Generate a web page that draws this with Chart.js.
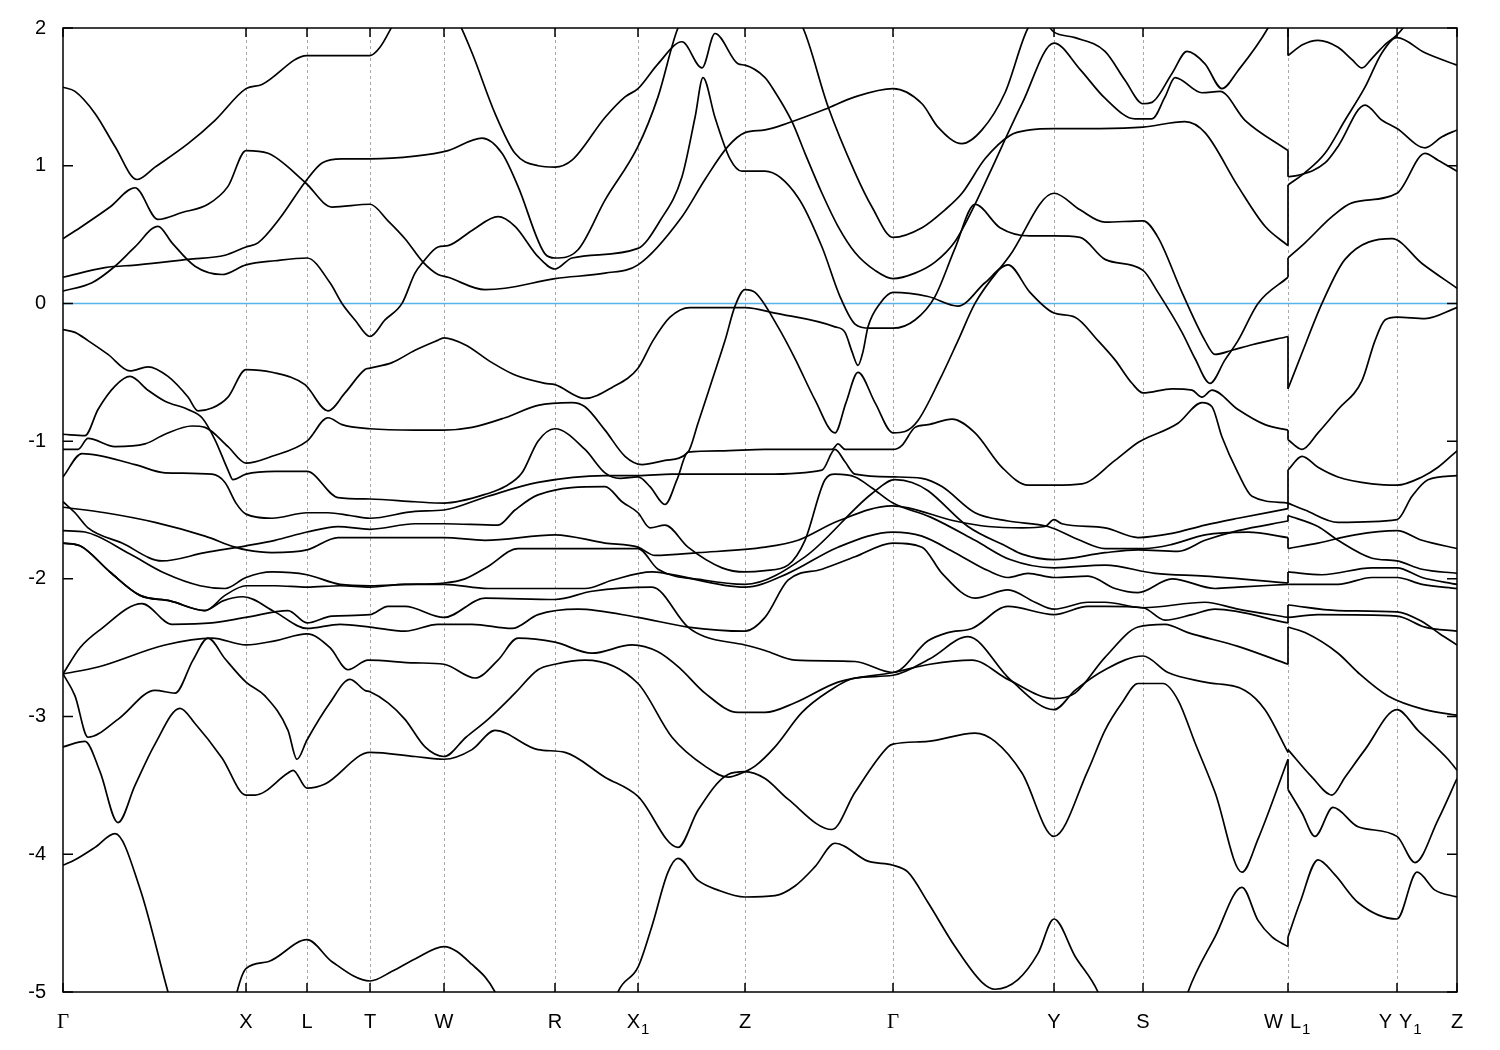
<!DOCTYPE html>
<html>
<head>
<meta charset="utf-8">
<title>Band structure</title>
<script src="https://cdn.jsdelivr.net/npm/chart.js@4.4.1/dist/chart.umd.min.js"></script>
<style>
  body { margin: 0; background: #fff; }
  #wrap { width: 1500px; height: 1050px; }
</style>
</head>
<body>
<div id="wrap"><canvas id="bands" width="1500" height="1050"></canvas></div>
<script>
// ===== Path (k in arbitrary path units) =====
const kTicks = [0, 183, 244, 307, 381, 492, 575, 682, 830, 991, 1080, 1225, 1334, 1394];
const kTickLabels = ['Γ', 'X', 'L', 'T', 'W', 'R', 'X_1', 'Z', 'Γ', 'Y', 'S', 'W|L_1', 'Y|Y_1', 'Z'];
const kJump = 1225;          // W | L1 discontinuity
const eTicks = [2, 1, 0, -1, -2, -3, -4, -5];

// ===== Bands, Γ → W =====
const bandA = [[0,1.57],[12,1.54],[32,1.38],[52,1.14],[74,0.90],[92,0.99],[125,1.16],[152,1.33],[183,1.56],[199,1.59],[244,1.80],[307,1.80],[317,1.86],[332,2.05],[362,2.4],[395,2.05],[409,1.82],[432,1.38],[452,1.09],[475,1.00],[492,0.99],[509,1.04],[542,1.35],[562,1.50],[575,1.56],[595,1.74],[619,1.90],[639,1.71],[652,1.96],[675,1.74],[682,1.73],[702,1.64],[709,1.57],[729,1.32],[742,1.09],[759,0.80],[775,0.56],[792,0.37],[812,0.24],[830,0.18],[852,0.22],[872,0.30],[892,0.45],[912,0.72],[925,0.92],[959,1.45],[991,1.89],[1017,1.70],[1042,1.49],[1072,1.34],[1089,1.34],[1102,1.50],[1112,1.64],[1139,1.53],[1157,1.54],[1182,1.33],[1225,1.11]];
const bandB = [[0,0.47],[17,0.55],[47,0.70],[72,0.84],[95,0.61],[119,0.66],[145,0.72],[165,0.85],[183,1.11],[205,1.09],[242,0.88],[269,0.70],[307,0.72],[325,0.60],[342,0.47],[360,0.30],[375,0.21],[385,0.19],[422,0.10],[442,0.11],[492,0.18],[542,0.22],[575,0.28],[619,0.63],[642,0.90],[665,1.14],[682,1.24],[702,1.26],[725,1.31],[762,1.41],[792,1.50],[830,1.56],[859,1.45],[875,1.28],[899,1.16],[919,1.26],[942,1.53],[965,2.0],[977,2.08],[991,1.97],[1012,1.93],[1042,1.83],[1062,1.62],[1080,1.45],[1089,1.46],[1109,1.67],[1124,1.83],[1142,1.74],[1159,1.56],[1175,1.69],[1205,2.0],[1225,2.3]];
const bandC = [[0,0.09],[29,0.15],[52,0.27],[72,0.41],[95,0.56],[109,0.44],[132,0.27],[159,0.21],[183,0.28],[212,0.31],[244,0.33],[267,0.15],[279,0.0],[292,-0.12],[307,-0.24],[322,-0.12],[339,0.0],[352,0.22],[360,0.30],[375,0.41],[385,0.42],[409,0.53],[435,0.63],[452,0.56],[475,0.34],[492,0.25],[509,0.33],[575,0.40],[597,0.6],[619,0.92],[632,1.35],[640,1.64],[652,1.35],[667,1.05],[679,0.96],[702,0.96],[735,0.77],[759,0.41],[777,0.05],[792,-0.15],[807,-0.18],[830,-0.18],[852,-0.12],[872,0.05],[892,0.40],[912,0.72],[937,0.55],[967,0.49],[991,0.49],[1017,0.48],[1042,0.32],[1080,0.24],[1095,0.08],[1119,-0.21],[1132,-0.40],[1147,-0.58],[1162,-0.41],[1175,-0.27],[1195,0.0],[1225,0.19]];
const bandD = [[0,0.19],[42,0.26],[75,0.28],[125,0.32],[162,0.35],[183,0.41],[195,0.44],[217,0.62],[242,0.88],[259,1.02],[279,1.05],[307,1.05],[352,1.07],[385,1.11],[419,1.20],[439,1.09],[455,0.85],[482,0.36],[492,0.33],[515,0.39],[542,0.75],[575,1.14],[595,1.50],[615,2.0],[677,2.6],[740,2.0],[765,1.43],[792,0.95],[809,0.70],[830,0.48],[859,0.55],[882,0.68],[899,0.80],[922,1.05],[947,1.22],[967,1.26],[991,1.27],[1037,1.27],[1080,1.28],[1122,1.32],[1142,1.24],[1175,0.85],[1202,0.56],[1225,0.42]];
const bandE = [[0,-0.19],[12,-0.21],[25,-0.27],[45,-0.37],[67,-0.49],[85,-0.46],[105,-0.53],[125,-0.68],[135,-0.78],[149,-0.76],[165,-0.68],[183,-0.48],[209,-0.50],[242,-0.59],[265,-0.78],[282,-0.65],[302,-0.48],[307,-0.47],[329,-0.43],[352,-0.34],[374,-0.27],[381,-0.25],[402,-0.30],[429,-0.43],[452,-0.52],[482,-0.58],[492,-0.59],[522,-0.69],[549,-0.61],[575,-0.47],[590,-0.27],[607,-0.10],[627,-0.03],[682,-0.03],[712,-0.07],[772,-0.17],[782,-0.21],[789,-0.35],[795,-0.45],[800,-0.35],[805,-0.17],[817,0.0],[830,0.08],[865,0.05],[895,-0.02],[922,0.15],[945,0.28],[967,0.08],[991,-0.07],[1012,-0.10],[1035,-0.27],[1052,-0.41],[1069,-0.58],[1080,-0.65],[1109,-0.62],[1129,-0.63],[1139,-0.68],[1149,-0.63],[1175,-0.77],[1202,-0.88],[1225,-0.92]];
const bandF = [[0,-0.95],[22,-0.96],[35,-0.77],[52,-0.60],[67,-0.53],[85,-0.63],[102,-0.71],[125,-0.77],[139,-0.83],[152,-0.99],[165,-1.21],[170,-1.28],[183,-1.24],[212,-1.22],[244,-1.22],[275,-1.41],[307,-1.42],[352,-1.44],[381,-1.45],[425,-1.38],[442,-1.33],[459,-1.23],[475,-1.00],[492,-0.91],[522,-1.06],[542,-1.23],[557,-1.27],[575,-1.26],[587,-1.33],[602,-1.46],[614,-1.28],[625,-1.08],[657,-1.07],[702,-1.06],[769,-1.06],[775,-1.02],[782,-1.06],[830,-1.06],[839,-1.03],[852,-0.90],[865,-0.88],[889,-0.84],[912,-0.94],[939,-1.19],[965,-1.32],[991,-1.32],[1019,-1.31],[1052,-1.14],[1075,-1.01],[1080,-0.99],[1115,-0.87],[1139,-0.72],[1149,-0.75],[1159,-0.97],[1175,-1.23],[1189,-1.40],[1225,-1.45]];
const bandG = [[0,-1.06],[15,-1.06],[25,-0.98],[52,-1.04],[82,-1.02],[102,-0.95],[129,-0.89],[142,-0.90],[165,-1.04],[183,-1.16],[209,-1.11],[244,-1.00],[265,-0.83],[279,-0.88],[307,-0.91],[352,-0.92],[381,-0.92],[409,-0.90],[442,-0.83],[475,-0.74],[509,-0.72],[522,-0.75],[542,-0.92],[562,-1.11],[579,-1.17],[602,-1.14],[625,-1.08],[635,-0.87],[649,-0.56],[662,-0.27],[672,-0.02],[682,0.10],[692,0.08],[715,-0.17],[732,-0.40],[752,-0.70],[772,-0.94],[783,-0.72],[795,-0.50],[812,-0.72],[830,-0.94],[842,-0.93],[855,-0.85],[877,-0.55],[895,-0.27],[912,0.0],[947,0.35],[991,0.80],[1017,0.68],[1042,0.59],[1080,0.60],[1095,0.48],[1119,0.08],[1142,-0.27],[1152,-0.37],[1169,-0.34],[1189,-0.30],[1225,-0.24]];
const bandH = [[0,-1.26],[19,-1.09],[72,-1.17],[102,-1.23],[149,-1.24],[162,-1.30],[173,-1.45],[183,-1.53],[209,-1.56],[244,-1.52],[265,-1.52],[287,-1.54],[307,-1.56],[352,-1.51],[381,-1.50],[425,-1.40],[475,-1.30],[542,-1.25],[575,-1.25],[609,-1.24],[702,-1.24],[759,-1.21],[772,-1.06],[782,-1.15],[792,-1.24],[832,-1.26],[859,-1.27],[879,-1.33],[912,-1.52],[945,-1.58],[985,-1.62],[1017,-1.72],[1042,-1.78],[1082,-1.78],[1109,-1.75],[1142,-1.68],[1185,-1.66],[1225,-1.70]];
const bandI = [[0,-1.44],[12,-1.52],[25,-1.63],[59,-1.74],[99,-1.87],[142,-1.81],[183,-1.76],[212,-1.72],[244,-1.66],[275,-1.62],[307,-1.64],[352,-1.60],[381,-1.60],[435,-1.61],[452,-1.50],[475,-1.39],[542,-1.33],[559,-1.44],[575,-1.52],[587,-1.63],[602,-1.61],[625,-1.77],[659,-1.92],[682,-1.95],[702,-1.94],[725,-1.90],[742,-1.72],[762,-1.28],[772,-1.24],[792,-1.26],[809,-1.34],[830,-1.45],[867,-1.55],[912,-1.72],[947,-1.86],[991,-1.92],[1042,-1.90],[1092,-1.96],[1142,-1.98],[1225,-2.03]];
const bandJ = [[0,-1.48],[42,-1.52],[92,-1.59],[142,-1.69],[172,-1.77],[183,-1.79],[209,-1.81],[244,-1.79],[275,-1.70],[307,-1.70],[342,-1.70],[381,-1.70],[422,-1.72],[492,-1.68],[542,-1.74],[575,-1.77],[592,-1.83],[635,-1.81],[702,-1.77],[735,-1.72],[775,-1.58],[829,-1.47],[892,-1.58],[925,-1.62],[959,-1.63],[982,-1.62],[991,-1.57],[999,-1.60],[1042,-1.63],[1075,-1.70],[1109,-1.67],[1142,-1.61],[1175,-1.56],[1225,-1.49]];
const bandK = [[0,-1.65],[22,-1.66],[67,-1.82],[102,-1.96],[137,-2.05],[162,-2.07],[183,-1.99],[209,-1.95],[244,-1.97],[277,-2.04],[307,-2.05],[342,-2.04],[381,-2.03],[402,-2.0],[425,-1.91],[455,-1.78],[575,-1.78],[595,-1.93],[642,-2.01],[682,-2.04],[742,-1.84],[809,-1.38],[832,-1.28],[849,-1.30],[865,-1.36],[905,-1.62],[945,-1.77],[959,-1.82],[991,-1.86],[1042,-1.81],[1075,-1.79],[1115,-1.80],[1142,-1.72],[1175,-1.65],[1225,-1.58]];
const bandL = [[0,-1.74],[17,-1.76],[47,-1.95],[77,-2.12],[107,-2.16],[142,-2.23],[162,-2.12],[183,-2.05],[212,-2.05],[244,-2.06],[277,-2.05],[307,-2.06],[342,-2.04],[381,-2.04],[425,-2.07],[522,-2.07],[549,-2.01],[589,-1.95],[602,-1.96],[682,-2.06],[725,-1.96],[775,-1.77],[830,-1.66],[859,-1.69],[892,-1.81],[925,-1.94],[945,-1.99],[965,-1.96],[991,-1.99],[1025,-1.98],[1052,-2.07],[1075,-2.10],[1109,-2.00],[1152,-2.07],[1175,-2.06],[1225,-2.04]];
const bandM = [[0,-1.74],[17,-1.76],[47,-1.95],[77,-2.12],[107,-2.16],[142,-2.23],[160,-2.16],[180,-2.13],[212,-2.24],[244,-2.36],[277,-2.33],[307,-2.35],[342,-2.38],[375,-2.33],[409,-2.33],[449,-2.36],[475,-2.26],[515,-2.22],[575,-2.28],[625,-2.35],[682,-2.38],[702,-2.28],[725,-2.01],[759,-1.93],[792,-1.84],[830,-1.74],[859,-1.77],[879,-1.96],[912,-2.14],[945,-2.08],[972,-2.17],[991,-2.22],[1025,-2.17],[1042,-2.17],[1080,-2.21],[1142,-2.17],[1175,-2.22],[1225,-2.28]];
const bandN = [[0,-2.69],[17,-2.50],[37,-2.37],[79,-2.18],[109,-2.33],[149,-2.32],[183,-2.28],[225,-2.23],[244,-2.32],[269,-2.27],[307,-2.26],[325,-2.20],[342,-2.20],[381,-2.28],[422,-2.14],[492,-2.15],[529,-2.09],[589,-2.06],[625,-2.35],[642,-2.42],[682,-2.48],[702,-2.52],[732,-2.59],[792,-2.60],[830,-2.68],[865,-2.45],[885,-2.39],[909,-2.36],[945,-2.20],[991,-2.26],[1025,-2.20],[1042,-2.20],[1080,-2.21],[1102,-2.30],[1129,-2.26],[1152,-2.22],[1225,-2.32]];
const bandO = [[0,-2.69],[35,-2.64],[102,-2.48],[149,-2.43],[183,-2.48],[212,-2.45],[244,-2.40],[267,-2.50],[285,-2.66],[305,-2.59],[352,-2.61],[381,-2.62],[412,-2.72],[435,-2.59],[455,-2.43],[492,-2.46],[529,-2.54],[569,-2.48],[595,-2.53],[617,-2.65],[642,-2.83],[675,-2.97],[702,-2.97],[732,-2.90],[775,-2.75],[830,-2.68],[867,-2.62],[909,-2.59],[945,-2.73],[991,-2.87],[1012,-2.83],[1042,-2.57],[1075,-2.35],[1102,-2.33],[1125,-2.39],[1175,-2.49],[1225,-2.62]];
const bandP = [[0,-2.69],[12,-2.85],[25,-3.15],[55,-3.02],[92,-2.81],[112,-2.83],[130,-2.59],[145,-2.43],[162,-2.58],[183,-2.75],[202,-2.85],[225,-3.10],[234,-3.31],[244,-3.17],[267,-2.90],[287,-2.73],[302,-2.81],[307,-2.82],[325,-2.90],[342,-3.02],[362,-3.22],[381,-3.29],[403,-3.15],[425,-3.02],[452,-2.83],[475,-2.66],[492,-2.62],[522,-2.59],[575,-2.76],[609,-3.15],[642,-3.36],[665,-3.44],[682,-3.40],[692,-3.36],[712,-3.22],[739,-2.97],[765,-2.82],[792,-2.72],[830,-2.70],[867,-2.58],[905,-2.42],[947,-2.73],[991,-2.95],[1012,-2.81],[1042,-2.66],[1080,-2.56],[1105,-2.68],[1142,-2.75],[1182,-2.81],[1202,-2.95],[1225,-3.26]];
const bandQ = [[0,-3.22],[22,-3.18],[37,-3.40],[55,-3.77],[72,-3.50],[92,-3.20],[117,-2.94],[132,-3.05],[159,-3.30],[183,-3.57],[192,-3.57],[225,-3.41],[230,-3.39],[244,-3.52],[262,-3.49],[307,-3.26],[352,-3.29],[381,-3.31],[409,-3.24],[432,-3.10],[475,-3.24],[502,-3.26],[542,-3.44],[575,-3.58],[615,-3.95],[635,-3.68],[665,-3.42],[682,-3.40],[702,-3.45],[725,-3.60],[769,-3.82],[792,-3.55],[825,-3.22],[830,-3.20],[865,-3.18],[912,-3.12],[932,-3.18],[959,-3.41],[991,-3.87],[1025,-3.39],[1042,-3.10],[1059,-2.90],[1075,-2.76],[1100,-2.76],[1115,-2.88],[1132,-3.19],[1152,-3.55],[1179,-4.13],[1195,-3.89],[1225,-3.31]];
const bandR1 = [[0,-4.08],[12,-4.04],[32,-3.95],[52,-3.85],[77,-4.25],[105,-5.0],[117,-5.3]];
const bandR2 = [[170,-5.15],[174,-5.0],[183,-4.83],[205,-4.78],[244,-4.62],[269,-4.78],[307,-4.92],[329,-4.85],[352,-4.76],[381,-4.67],[409,-4.80],[432,-5.0],[442,-5.2]];
const bandR3 = [[547,-5.2],[555,-5.0],[575,-4.82],[589,-4.52],[605,-4.13],[615,-4.03],[635,-4.19],[655,-4.26],[682,-4.31],[712,-4.30],[732,-4.23],[752,-4.09],[772,-3.92],[805,-4.05],[830,-4.08],[845,-4.13],[865,-4.35],[892,-4.67],[919,-4.93],[932,-4.98],[955,-4.91],[975,-4.72],[991,-4.47],[1012,-4.74],[1035,-5.0],[1045,-5.2]];
const bandR4 = [[1117,-5.2],[1125,-5.0],[1152,-4.60],[1179,-4.24],[1195,-4.48],[1209,-4.60],[1225,-4.67]];

// ===== Bands, L1 → Z =====
const bandS1 = [[1225,1.80],[1240,1.88],[1255,1.91],[1275,1.86],[1289,1.77],[1299,1.71],[1309,1.78],[1322,1.88],[1334,1.95],[1342,2.02],[1352,2.15]];
const bandS2 = [[1225,0.86],[1242,0.95],[1262,1.09],[1282,1.33],[1302,1.57],[1319,1.82],[1334,1.93],[1362,1.82],[1394,1.73]];
const bandS3 = [[1225,0.92],[1235,0.93],[1262,1.02],[1275,1.14],[1302,1.44],[1319,1.33],[1334,1.27],[1362,1.13],[1379,1.21],[1394,1.26]];
const bandS4 = [[1225,0.33],[1242,0.44],[1269,0.63],[1289,0.73],[1334,0.80],[1362,1.09],[1375,1.04],[1394,0.96]];
const bandS5 = [[1225,-0.62],[1239,-0.36],[1259,0.0],[1282,0.32],[1329,0.47],[1359,0.29],[1394,0.11]];
const bandS6 = [[1225,-0.99],[1239,-1.06],[1255,-0.94],[1275,-0.77],[1299,-0.56],[1312,-0.27],[1322,-0.12],[1334,-0.10],[1362,-0.11],[1394,-0.03]];
const bandS7 = [[1225,-1.21],[1239,-1.11],[1255,-1.19],[1275,-1.26],[1309,-1.31],[1334,-1.32],[1359,-1.26],[1375,-1.19],[1394,-1.07]];
const bandS8 = [[1225,-1.45],[1242,-1.50],[1275,-1.59],[1334,-1.57],[1349,-1.40],[1365,-1.28],[1394,-1.25]];
const bandS9 = [[1225,-1.54],[1255,-1.62],[1275,-1.72],[1309,-1.85],[1334,-1.87],[1359,-1.93],[1394,-1.96]];
const bandS10 = [[1225,-1.78],[1255,-1.74],[1292,-1.68],[1334,-1.65],[1359,-1.72],[1394,-1.78]];
const bandS11 = [[1225,-1.95],[1259,-1.97],[1309,-1.92],[1334,-1.92],[1359,-1.99],[1394,-2.04]];
const bandS12 = [[1225,-2.04],[1275,-2.04],[1309,-1.99],[1334,-1.99],[1359,-2.04],[1394,-2.07]];
const bandS13 = [[1225,-2.19],[1275,-2.23],[1334,-2.24],[1359,-2.31],[1377,-2.40],[1394,-2.48]];
const bandS14 = [[1225,-2.28],[1255,-2.26],[1334,-2.27],[1362,-2.35],[1394,-2.38]];
const bandS15 = [[1225,-2.35],[1242,-2.39],[1275,-2.54],[1295,-2.68],[1325,-2.85],[1362,-2.95],[1394,-2.99]];
const bandS16 = [[1225,-3.24],[1249,-3.44],[1269,-3.57],[1282,-3.44],[1302,-3.24],[1334,-2.95],[1355,-3.10],[1385,-3.31],[1394,-3.39]];
const bandS17 = [[1225,-3.53],[1239,-3.70],[1252,-3.87],[1270,-3.66],[1295,-3.80],[1334,-3.87],[1352,-4.06],[1375,-3.75],[1394,-3.45]];
const bandS18 = [[1225,-4.60],[1237,-4.35],[1255,-4.04],[1272,-4.15],[1295,-4.35],[1334,-4.47],[1354,-4.13],[1372,-4.26],[1394,-4.31]];

const leftBands = [bandA, bandB, bandC, bandD, bandE, bandF, bandG, bandH, bandI, bandJ, bandK, bandL, bandM, bandN, bandO, bandP, bandQ, bandR1, bandR2, bandR3, bandR4];
const rightBands = [bandS1, bandS2, bandS3, bandS4, bandS5, bandS6, bandS7, bandS8, bandS9, bandS10, bandS11, bandS12, bandS13, bandS14, bandS15, bandS16, bandS17, bandS18];

// ===== Datasets =====
function toPoints(band) {
    return band.map(p => ({ x: p[0], y: p[1] }));
}

function bandDataset(band) {
    return {
        data: toPoints(band),
        borderColor: '#000',
        borderWidth: 1.7,
        pointRadius: 0,
        fill: false,
        cubicInterpolationMode: 'monotone'
    };
}

// vertical connectors at W|L1: n-th band from the top on each side
function jumpDatasets() {
    const wEnds = leftBands.filter(b => b[b.length - 1][0] === kJump).map(b => b[b.length - 1][1]).sort((a, b) => b - a);
    const lStarts = rightBands.filter(b => b[0][0] === kJump).map(b => b[0][1]).sort((a, b) => b - a);
    const n = Math.min(wEnds.length, lStarts.length);
    const sets = [];
    for (let i = 0; i < n; i++) {
        sets.push({
            data: [{ x: kJump, y: wEnds[i] }, { x: kJump, y: lStarts[i] }],
            borderColor: '#000',
            borderWidth: 1.7,
            pointRadius: 0,
            tension: 0
        });
    }
    return sets;
}

const datasets = [
    ...leftBands.map(bandDataset),
    ...rightBands.map(bandDataset),
    ...jumpDatasets(),
    {
        data: [{ x: kTicks[0], y: 0 }, { x: kTicks[kTicks.length - 1], y: 0 }],
        borderColor: '#56b4e9',
        borderWidth: 1.5,
        pointRadius: 0,
        tension: 0
    }
];

// ===== Frame, ticks, labels =====
function drawTickLabel(ctx, text, x, y, align) {
    const [main, sub] = text.split('_');
    const mainFont = main === 'Γ' ? '21px "Liberation Serif"' : '20px "Liberation Sans"';
    const subFont = '15px "Liberation Sans"';
    ctx.font = mainFont;
    const wMain = ctx.measureText(main).width;
    ctx.font = subFont;
    const wSub = sub ? ctx.measureText(sub).width + 1 : 0;
    const total = wMain + wSub;
    let start = x - total / 2;
    if (align === 'right') start = x - total;
    if (align === 'left') start = x;
    ctx.textAlign = 'left';
    ctx.textBaseline = 'alphabetic';
    ctx.font = mainFont;
    ctx.fillText(main, start, y);
    if (sub) {
        ctx.font = subFont;
        ctx.fillText(sub, start + wMain + 1, y + 6);
    }
}

const framePlugin = {
    id: 'frame',
    beforeDatasetsDraw(chart) {
        const { ctx, chartArea: a, scales: { x } } = chart;
        ctx.save();
        ctx.strokeStyle = '#a8a8a8';
        ctx.lineWidth = 1;
        ctx.setLineDash([3, 3]);
        kTicks.slice(1, -1).forEach(k => {
            const px = Math.round(x.getPixelForValue(k)) + 0.5;
            ctx.beginPath();
            ctx.moveTo(px, a.top);
            ctx.lineTo(px, a.bottom);
            ctx.stroke();
        });
        ctx.restore();
    },
    afterDraw(chart) {
        const { ctx, chartArea: a, scales: { x, y } } = chart;
        ctx.save();
        ctx.strokeStyle = '#000';
        ctx.lineWidth = 1.5;
        ctx.strokeRect(a.left, a.top, a.right - a.left, a.bottom - a.top);

        // ticks on x axis (top and bottom)
        kTicks.forEach(k => {
            const px = x.getPixelForValue(k);
            ctx.beginPath();
            ctx.moveTo(px, a.bottom); ctx.lineTo(px, a.bottom - 9);
            ctx.moveTo(px, a.top); ctx.lineTo(px, a.top + 9);
            ctx.stroke();
        });
        // ticks on y axis (left and right)
        eTicks.forEach(v => {
            const py = y.getPixelForValue(v);
            ctx.beginPath();
            ctx.moveTo(a.left, py); ctx.lineTo(a.left + 10, py);
            ctx.moveTo(a.right, py); ctx.lineTo(a.right - 10, py);
            ctx.stroke();
        });

        // energy labels
        ctx.fillStyle = '#000';
        ctx.font = '20px "Liberation Sans"';
        ctx.textAlign = 'right';
        ctx.textBaseline = 'middle';
        eTicks.forEach(v => {
            ctx.fillText(String(v), a.left - 17, y.getPixelForValue(v));
        });

        // k-point labels
        const base = a.bottom + 36;
        kTicks.forEach((k, i) => {
            const px = x.getPixelForValue(k);
            const parts = kTickLabels[i].split('|');
            if (parts.length === 2) {
                drawTickLabel(ctx, parts[0], px - 5, base, 'right');
                drawTickLabel(ctx, parts[1], px + 2, base, 'left');
            } else {
                drawTickLabel(ctx, parts[0], px, base, 'center');
            }
        });
        ctx.restore();
    }
};

// ===== Chart =====
const chartInstance = new Chart(document.getElementById('bands').getContext('2d'), {
    type: 'line',
    data: { datasets },
    options: {
        responsive: false,
        animation: false,
        devicePixelRatio: 1,
        layout: { padding: { left: 63, right: 43, top: 28, bottom: 58 } },
        scales: {
            x: { type: 'linear', min: kTicks[0], max: kTicks[kTicks.length - 1], display: false },
            y: { type: 'linear', min: eTicks[eTicks.length - 1], max: eTicks[0], display: false }
        },
        plugins: { legend: { display: false }, tooltip: { enabled: false } }
    },
    plugins: [framePlugin]
});
</script>
</body>
</html>
